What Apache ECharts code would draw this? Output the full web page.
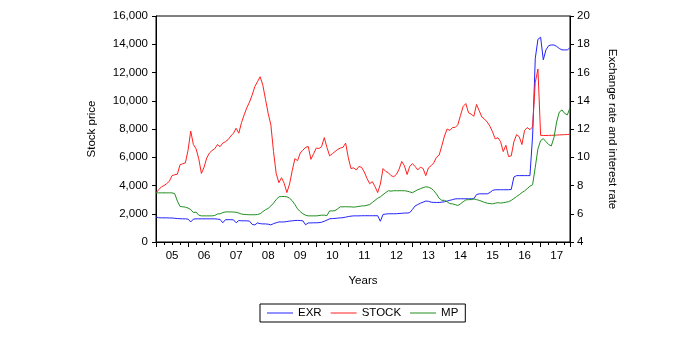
<!DOCTYPE html>
<html>
<head>
<meta charset="utf-8">
<script src="https://cdn.jsdelivr.net/npm/echarts@6/dist/echarts.min.js"></script>
<style>html,body{margin:0;padding:0;background:#fff;}#c{width:700px;height:344px;}</style>
</head>
<body>
<div id="c"></div>
<script>
var years = [2005,2006,2007,2008,2009,2010,2011,2012,2013,2014,2015,2016,2017];
var seriesNames = ['EXR','STOCK','MP'];
var xTitle = 'Years';
var leftTitle = 'Stock price';
var rightTitle = 'Exchange rate and interest rate';

// Monthly values, 2005M01 - 2017M12
var stock = [
 3480,3700,3900,4000,4130,4300,4700,4760,4800,5470,5540,5600,
 6500,7850,6900,6600,5900,4850,5300,5950,6300,6480,6600,6900,
 6750,7000,7100,7250,7500,7700,8050,7700,8450,9000,9500,9900,
 10400,11000,11350,11700,11100,10100,9100,8300,6400,4850,4200,4550,
 4150,3500,4100,5050,5900,5760,6300,6500,6700,6760,5850,6250,
 6650,6620,6750,7390,6700,6100,6250,6400,6550,6650,6700,7000,
 5970,5200,5250,5100,5350,5280,4950,4500,4130,4270,3920,3500,
 4100,5200,5000,4900,4700,4620,4780,5150,5700,5400,4780,5350,
 5550,5350,5100,5300,5200,4700,5250,5400,5600,6000,6150,6800,
 7500,8000,7900,8100,8110,8300,8960,9600,9800,9150,9050,8900,
 9740,9300,8850,8700,8500,8200,7800,7300,7380,7110,6400,6850,
 6050,6100,7100,7600,7450,6900,7900,8100,7950,8150,11300,12250,
 7550,7540,7540,7550,7550,7560,7570,7580,7590,7600,7610,7630
];
var exr = [
 5.78,5.72,5.71,5.71,5.71,5.70,5.70,5.68,5.66,5.65,5.64,5.64,
 5.62,5.42,5.62,5.64,5.64,5.64,5.64,5.64,5.64,5.64,5.64,5.62,
 5.60,5.36,5.58,5.58,5.58,5.57,5.36,5.52,5.50,5.50,5.50,5.48,
 5.25,5.21,5.35,5.30,5.28,5.28,5.26,5.21,5.30,5.36,5.42,5.42,
 5.42,5.45,5.48,5.50,5.52,5.53,5.52,5.50,5.22,5.35,5.35,5.36,
 5.36,5.37,5.40,5.47,5.55,5.64,5.66,5.67,5.69,5.71,5.72,5.76,
 5.80,5.83,5.85,5.85,5.85,5.86,5.86,5.86,5.86,5.86,5.86,5.86,
 5.47,5.95,5.98,6.00,6.00,6.00,6.00,6.02,6.03,6.05,6.05,6.08,
 6.30,6.55,6.65,6.75,6.82,6.90,6.88,6.82,6.80,6.80,6.80,6.82,
 6.85,6.90,6.95,7.00,7.05,7.06,7.06,7.06,7.06,7.06,7.06,7.06,
 7.36,7.41,7.41,7.41,7.41,7.50,7.65,7.70,7.70,7.70,7.70,7.70,
 7.70,7.72,8.60,8.70,8.70,8.70,8.70,8.70,8.70,11.5,17.0,18.35,
 18.5,16.9,17.6,17.9,17.95,17.95,17.85,17.7,17.6,17.6,17.6,17.75
];
var mp = [
 7.48,7.48,7.48,7.48,7.48,7.48,7.48,7.42,6.90,6.52,6.49,6.47,
 6.40,6.30,6.08,6.12,5.90,5.85,5.85,5.85,5.85,5.85,5.88,5.98,
 6.00,6.08,6.13,6.13,6.13,6.12,6.10,6.05,5.98,5.95,5.94,5.93,
 5.93,5.93,5.95,6.00,6.15,6.28,6.38,6.55,6.75,7.00,7.20,7.22,
 7.22,7.20,7.10,6.92,6.65,6.35,6.15,6.00,5.90,5.85,5.85,5.85,
 5.85,5.87,5.90,5.90,5.87,6.20,6.20,6.22,6.35,6.49,6.49,6.50,
 6.49,6.49,6.47,6.49,6.52,6.55,6.56,6.60,6.65,6.80,6.95,7.10,
 7.20,7.35,7.50,7.63,7.60,7.63,7.63,7.63,7.63,7.63,7.60,7.55,
 7.48,7.60,7.70,7.77,7.85,7.91,7.88,7.80,7.63,7.40,7.10,6.95,
 6.95,6.85,6.72,6.70,6.65,6.58,6.70,6.85,6.98,7.00,7.00,7.05,
 7.00,6.95,6.88,6.80,6.75,6.72,6.70,6.75,6.78,6.76,6.78,6.82,
 6.85,6.95,7.08,7.22,7.35,7.50,7.62,7.78,7.95,8.05,9.30,10.6,
 11.18,11.32,11.1,10.9,10.8,11.4,12.5,13.2,13.35,13.1,13.0,13.5
];

var categories = [];
years.forEach(function (y) {
  for (var m = 1; m <= 12; m++) categories.push(y + 'M' + (m < 10 ? '0' + m : m));
});
var nMonths = categories.length;

var FONT = 'Arial, "Liberation Sans", sans-serif';
var txt = { color: '#000', fontFamily: FONT, fontSize: 11.5 };
var axisLine = { show: true, lineStyle: { color: '#000', width: 1 } };

var chart = echarts.init(document.getElementById('c'), null, { renderer: 'canvas' });
chart.setOption({
  animation: false,
  backgroundColor: '#fff',
  grid: { left: 156, top: 16, width: 414, height: 226, show: true, borderColor: '#000', borderWidth: 1, backgroundColor: 'transparent' },
  legend: {
    data: seriesNames,
    left: 260, top: 304,
    padding: [3, 7],
    icon: 'rect',
    itemGap: 9, itemWidth: 26, itemHeight: 1,
    borderColor: '#000', borderWidth: 1,
    textStyle: txt
  },
  xAxis: [{
    type: 'category', data: categories, boundaryGap: false,
    axisLine: axisLine,
    axisTick: { show: true, length: 3, lineStyle: { color: '#000', width: 1 }, interval: function (i) { return i % 3 === 0; } },
    axisLabel: Object.assign({ margin: 8, interval: function (i) { return i % 12 === 6; }, formatter: function (v) { return v.slice(2, 4); } }, txt),
    splitLine: { show: false },
    name: xTitle, nameLocation: 'middle', nameGap: 33, nameTextStyle: txt
  }, {
    type: 'value', min: 0, max: nMonths - 1, interval: 12, position: 'bottom', gridIndex: 0,
    axisLine: { show: false },
    axisTick: { show: true, length: 5, lineStyle: { color: '#000', width: 1 } },
    axisLabel: { show: false },
    splitLine: { show: false }
  }],
  yAxis: [{
    type: 'value', min: 0, max: 16000, interval: 2000, position: 'left',
    axisLine: axisLine,
    axisTick: { show: true, length: 4, lineStyle: { color: '#000' } },
    axisLabel: Object.assign({ margin: 8, formatter: function (v) { return v.toLocaleString('en-US'); } }, txt),
    splitLine: { show: false },
    name: leftTitle, nameLocation: 'middle', nameGap: 58, nameTextStyle: txt
  }, {
    type: 'value', min: 4, max: 20, interval: 2, position: 'right',
    axisLine: axisLine,
    axisTick: { show: true, length: 4, lineStyle: { color: '#000' } },
    axisLabel: Object.assign({ margin: 7 }, txt),
    splitLine: { show: false },
    name: rightTitle, nameLocation: 'middle', nameGap: 36, nameRotate: -90, nameTextStyle: txt
  }],
  series: [
    { name: seriesNames[0], type: 'line', data: exr, xAxisIndex: 0, yAxisIndex: 1, symbol: 'none', color: '#2222ff', lineStyle: { width: 1, color: '#2222ff' } },
    { name: seriesNames[1], type: 'line', data: stock, xAxisIndex: 0, yAxisIndex: 0, symbol: 'none', color: '#ff2020', lineStyle: { width: 1, color: '#ff2020' } },
    { name: seriesNames[2], type: 'line', data: mp, xAxisIndex: 0, yAxisIndex: 1, symbol: 'none', color: '#1f8f1f', lineStyle: { width: 1, color: '#1f8f1f' } }
  ]
});
</script>
</body>
</html>
